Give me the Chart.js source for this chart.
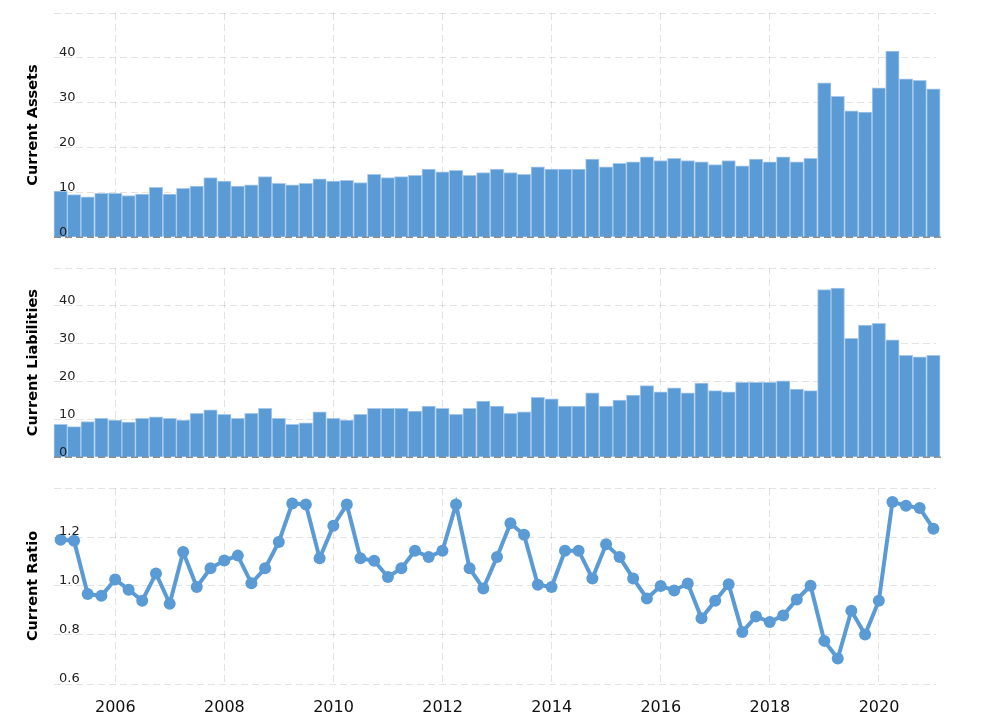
<!DOCTYPE html>
<html>
<head>
<meta charset="utf-8">
<script src="https://cdn.jsdelivr.net/npm/chart.js@4.4.1/dist/chart.umd.min.js"></script>
<style>
  html, body { margin: 0; padding: 0; background: #fff; }
  body { width: 995px; height: 720px; position: relative; overflow: hidden; }
  canvas { position: absolute; left: 0; }
</style>
</head>
<body>
<canvas id="c1" width="995" height="250" style="top:0px"></canvas>
<canvas id="c2" width="995" height="220" style="top:250px"></canvas>
<canvas id="c3" width="995" height="250" style="top:470px"></canvas>
<script>
// Quarter-end dates (x categories)
const quarterDates = [
  "2004-12-31",
  "2005-03-31","2005-06-30","2005-09-30","2005-12-31",
  "2006-03-31","2006-06-30","2006-09-30","2006-12-31",
  "2007-03-31","2007-06-30","2007-09-30","2007-12-31",
  "2008-03-31","2008-06-30","2008-09-30","2008-12-31",
  "2009-03-31","2009-06-30","2009-09-30","2009-12-31",
  "2010-03-31","2010-06-30","2010-09-30","2010-12-31",
  "2011-03-31","2011-06-30","2011-09-30","2011-12-31",
  "2012-03-31","2012-06-30","2012-09-30","2012-12-31",
  "2013-03-31","2013-06-30","2013-09-30","2013-12-31",
  "2014-03-31","2014-06-30","2014-09-30","2014-12-31",
  "2015-03-31","2015-06-30","2015-09-30","2015-12-31",
  "2016-03-31","2016-06-30","2016-09-30","2016-12-31",
  "2017-03-31","2017-06-30","2017-09-30","2017-12-31",
  "2018-03-31","2018-06-30","2018-09-30","2018-12-31",
  "2019-03-31","2019-06-30","2019-09-30","2019-12-31",
  "2020-03-31","2020-06-30","2020-09-30","2020-12-31"
];

const currentAssets = [
  10.3, 9.5, 9.0, 9.8, 9.8, 9.3, 9.6, 11.1, 9.6, 10.9,
  11.4, 13.3, 12.5, 11.4, 11.7, 13.5, 12.0, 11.7, 12.0, 13.0,
  12.5, 12.7, 12.2, 14.0, 13.3, 13.5, 13.8, 15.2, 14.6, 14.9,
  13.8, 14.4, 15.2, 14.4, 14.0, 15.7, 15.2, 15.2, 15.2, 17.4,
  15.7, 16.5, 16.8, 17.9, 17.1, 17.6, 17.1, 16.8, 16.2, 17.1,
  15.9, 17.4, 16.8, 17.9, 16.8, 17.6, 34.4, 31.4, 28.2, 27.9,
  33.3, 41.5, 35.3, 35.0, 33.1
];

const currentLiabilities = [
  8.7, 8.1, 9.4, 10.3, 9.8, 9.3, 10.3, 10.7, 10.3, 9.8,
  11.6, 12.5, 11.3, 10.3, 11.6, 12.9, 10.3, 8.7, 9.1, 12.0,
  10.3, 9.8, 11.3, 12.9, 12.9, 12.9, 12.2, 13.5, 12.9, 11.3,
  12.9, 14.8, 13.5, 11.6, 12.0, 15.8, 15.4, 13.5, 13.5, 17.0,
  13.5, 15.1, 16.4, 18.9, 17.3, 18.3, 17.0, 19.6, 17.6, 17.3,
  19.8, 19.8, 19.8, 20.2, 18.0, 17.6, 44.3, 44.7, 31.4, 34.9,
  35.4, 31.0, 26.9, 26.5, 26.9
];

const currentRatio = [
  1.189, 1.185, 0.967, 0.960, 1.027, 0.985, 0.940, 1.051, 0.928, 1.139,
  0.996, 1.072, 1.104, 1.124, 1.011, 1.072, 1.180, 1.337, 1.333, 1.113,
  1.246, 1.333, 1.113, 1.103, 1.037, 1.072, 1.144, 1.118, 1.144, 1.333,
  1.072, 0.990, 1.118, 1.256, 1.209, 1.005, 0.996, 1.144, 1.144, 1.031,
  1.170, 1.118, 1.031, 0.949, 1.000, 0.982, 1.010, 0.868, 0.940, 1.007,
  0.812, 0.876, 0.853, 0.880, 0.945, 1.001, 0.776, 0.704, 0.899, 0.802,
  0.940, 1.343, 1.328, 1.318, 1.234
];

const yearTicks = [2006, 2008, 2010, 2012, 2014, 2016, 2018, 2020];
const amountTicks = [0, 10, 20, 30, 40, 50];
const ratioTicks = [0.6, 0.8, 1.0, 1.2, 1.4];

// ---- helpers ----
function decimalYear(s) {
  const [y, m, d] = s.split("-").map(Number);
  const start = Date.UTC(y, 0, 1), end = Date.UTC(y + 1, 0, 1);
  return y + (Date.UTC(y, m - 1, d) - start) / (end - start);
}
const xs = quarterDates.map(decimalYear);
function toPoints(vals) { return vals.map((v, i) => ({ x: xs[i], y: v })); }

const BLUE = '#5b9bd5';
const FONT = "'DejaVu Sans', Verdana, sans-serif";
const GRID = 'rgba(0,0,0,0.11)';
const DASH = [7, 4];

Chart.defaults.font.family = FONT;
Chart.defaults.color = '#222';
Chart.defaults.scale.grid.borderDash = DASH;

const zeroLine = {
  id: 'zeroLine',
  afterDatasetsDraw(chart) {
    const ctx = chart.ctx, y = chart.scales.y.getPixelForValue(0);
    const a = chart.chartArea;
    ctx.save();
    ctx.strokeStyle = 'rgba(70,70,70,0.55)';
    ctx.lineWidth = 1.5;
    ctx.setLineDash(DASH);
    ctx.beginPath();
    ctx.moveTo(a.left, y);
    ctx.lineTo(a.right + 5, y);
    ctx.stroke();
    ctx.restore();
  }
};

function xScale(showLabels) {
  return {
    type: 'linear',
    offset: false,
    min: 2004.876,
    max: 2021.045,
    afterBuildTicks: s => { s.ticks = yearTicks.map(v => ({ value: v })); },
    afterFit: s => { s.height = showLabels ? 36 : 0; },
    grid: { color: GRID, drawTicks: false, offset: false },
    border: { display: false, dash: DASH },
    ticks: {
      display: showLabels,
      padding: 14,
      maxRotation: 0,
      autoSkip: false,
      font: { size: 16, family: FONT },
      color: '#111',
      callback: v => String(v)
    }
  };
}

function yScale(title, ticksArr, fmt) {
  const mn = ticksArr[0], mx = ticksArr[ticksArr.length - 1];
  return {
    min: mn,
    max: mx,
    afterBuildTicks: s => { s.ticks = ticksArr.map(v => ({ value: v })); },
    afterFit: s => { s.width = 54; },
    grid: { color: GRID, drawTicks: false },
    border: { display: false, dash: DASH },
    title: {
      display: true,
      text: title,
      color: '#000',
      font: { size: 14.5, weight: 'bold', family: FONT },
      padding: { top: 25, bottom: 0 }
    },
    ticks: {
      z: 1,
      mirror: true,
      padding: 5,
      labelOffset: -5,
      font: { size: 13, family: FONT },
      color: '#222',
      callback: v => (Math.abs(v - mx) < 1e-9 ? '' : fmt(v))
    }
  };
}

const basePlugins = { legend: { display: false }, tooltip: { enabled: false } };

function barChart(id, title, values, pad) {
  return new Chart(document.getElementById(id), {
    type: 'bar',
    data: {
      datasets: [{
        data: toPoints(values),
        backgroundColor: BLUE,
        borderColor: '#a9c9ea',
        borderWidth: 1,
        barPercentage: 1,
        categoryPercentage: 1,
        clip: false
      }]
    },
    options: {
      responsive: false,
      animation: false,
      layout: { padding: pad },
      plugins: basePlugins,
      scales: { x: xScale(false), y: yScale(title, amountTicks, v => String(v)) }
    },
    plugins: [zeroLine]
  });
}

barChart('c1', 'Current Assets', currentAssets, { top: 13, bottom: 7, left: 0, right: 59 });
barChart('c2', 'Current Liabilities', currentLiabilities, { top: 18, bottom: 6, left: 0, right: 59 });

new Chart(document.getElementById('c3'), {
  type: 'line',
  data: {
    datasets: [{
      data: toPoints(currentRatio),
      borderColor: BLUE,
      backgroundColor: BLUE,
      borderWidth: 4,
      pointRadius: 6,
      pointBackgroundColor: BLUE,
      pointBorderColor: BLUE,
      pointBorderWidth: 0,
      tension: 0,
      clip: false
    }]
  },
  options: {
    responsive: false,
    animation: false,
    layout: { padding: { top: 18, bottom: 0, left: 0, right: 59 } },
    plugins: basePlugins,
    scales: { x: xScale(true), y: yScale('Current Ratio', ratioTicks, v => v.toFixed(1)) }
  }
});
</script>
</body>
</html>
